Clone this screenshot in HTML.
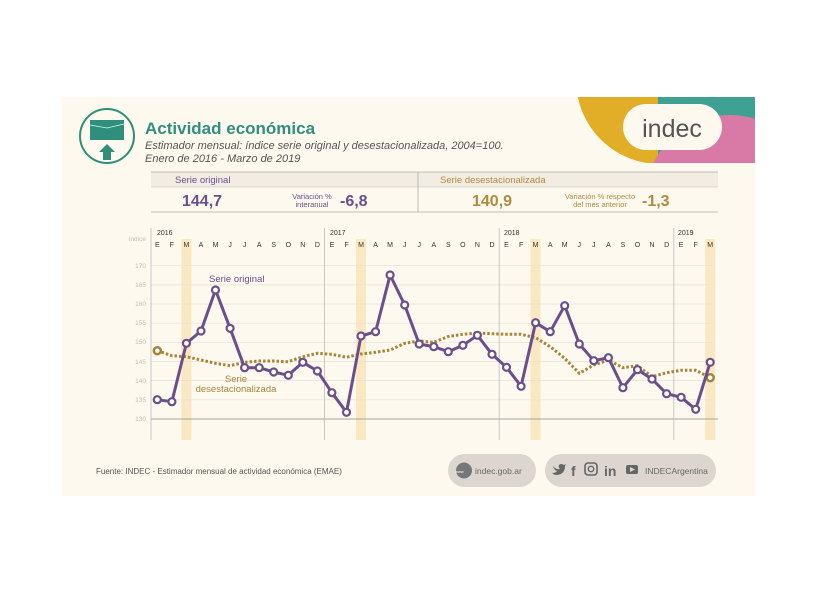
<!DOCTYPE html>
<html><head><meta charset="utf-8"><style>
html,body{margin:0;padding:0;background:#fff;}
svg{display:block;font-family:"Liberation Sans",sans-serif;}
</style></head><body>
<svg width="815" height="612" viewBox="0 0 815 612" xmlns="http://www.w3.org/2000/svg">
<defs><clipPath id="pc"><rect x="62" y="97" width="693" height="66"/></clipPath></defs>
<rect x="62" y="97" width="693" height="399" fill="#fdf9ef"/>
<g clip-path="url(#pc)">
 <circle cx="660" cy="80" r="84" fill="#e2ad27"/>
 <rect x="658" y="90" width="100" height="80" fill="#3fa193"/>
 <circle cx="730" cy="200" r="85" fill="#d97aa6"/>
 <rect x="623" y="104" width="99" height="46" rx="23" fill="#fdf9ef"/>
 <text x="672" y="137" font-size="25" fill="#555" text-anchor="middle">indec</text>
</g>
<!-- icon -->
<circle cx="107" cy="136" r="27" fill="none" stroke="#2f8f7c" stroke-width="2"/>
<rect x="90" y="120" width="34" height="20" fill="#2f8f7c"/>
<path d="M90 125 L107 128 L124 124" stroke="#cfe" stroke-width="0.7" fill="none"/>
<path d="M107 144 L99 152 L103 152 L103 160 L111 160 L111 152 L115 152 Z" fill="#2f8f7c"/>
<text x="145" y="134" font-size="17" font-weight="bold" fill="#2f8f7c">Actividad económica</text>
<text x="145" y="149" font-size="11" font-style="italic" fill="#555">Estimador mensual: índice serie original y desestacionalizada, 2004=100.</text>
<text x="145" y="162" font-size="11" font-style="italic" fill="#555">Enero de 2016 - Marzo de 2019</text>
<!-- table -->
<rect x="151" y="172" width="567" height="15" fill="#f3ece3"/>
<line x1="151" y1="172" x2="718" y2="172" stroke="#aaa" stroke-width="0.8"/>
<line x1="151" y1="187" x2="718" y2="187" stroke="#bbb" stroke-width="0.6"/>
<line x1="151" y1="212" x2="718" y2="212" stroke="#aaa" stroke-width="0.8"/>
<line x1="418" y1="172" x2="418" y2="212" stroke="#aaa" stroke-width="0.8"/>
<text x="175" y="183" font-size="9.5" fill="#6a4f8c">Serie original</text>
<text x="440" y="183" font-size="9.5" fill="#b08a3e">Serie desestacionalizada</text>
<text x="182" y="206" font-size="16" font-weight="bold" fill="#6a4f8c">144,7</text>
<text x="312" y="199" font-size="7.5" fill="#6a4f8c" text-anchor="middle">Variación %</text>
<text x="312" y="207" font-size="7.5" fill="#6a4f8c" text-anchor="middle">interanual</text>
<text x="340" y="206" font-size="16" font-weight="bold" fill="#6a4f8c">-6,8</text>
<text x="472" y="206" font-size="16" font-weight="bold" fill="#b08a3e">140,9</text>
<text x="600" y="199" font-size="7.5" fill="#b08a3e" text-anchor="middle">Variación % respecto</text>
<text x="600" y="207" font-size="7.5" fill="#b08a3e" text-anchor="middle">del mes anterior</text>
<text x="642" y="206" font-size="16" font-weight="bold" fill="#b08a3e">-1,3</text>
<!-- highlight bars -->
<g fill="#f8e6bd" opacity="0.9">
 <rect x="181.4" y="239" width="10" height="201"/>
 <rect x="356" y="239" width="10" height="201"/>
 <rect x="530.6" y="239" width="10" height="201"/>
 <rect x="705.2" y="239" width="10" height="201"/>
</g>
<!-- grid -->
<g stroke="#e6e0d6" stroke-width="0.7">
 <line x1="151" y1="265.7" x2="712" y2="265.7"/><line x1="151" y1="284.9" x2="712" y2="284.9"/>
 <line x1="151" y1="304" x2="712" y2="304"/><line x1="151" y1="323.2" x2="712" y2="323.2"/>
 <line x1="151" y1="342.3" x2="712" y2="342.3"/><line x1="151" y1="361.5" x2="712" y2="361.5"/>
 <line x1="151" y1="380.6" x2="712" y2="380.6"/><line x1="151" y1="399.8" x2="712" y2="399.8"/>
</g>
<line x1="151" y1="419" x2="718" y2="419" stroke="#888" stroke-width="0.8"/>
<g stroke="#bbb" stroke-width="0.8">
 <line x1="151" y1="228" x2="151" y2="440"/>
 <line x1="324.6" y1="228" x2="324.6" y2="440"/>
 <line x1="499.2" y1="228" x2="499.2" y2="440"/>
 <line x1="673.8" y1="228" x2="673.8" y2="440"/>
</g>
<g font-size="6.5" fill="#c4bdb3" text-anchor="end">
 <text x="146" y="241">Indice</text>
 <text x="146" y="268">170</text><text x="146" y="287">165</text><text x="146" y="306">160</text>
 <text x="146" y="325">155</text><text x="146" y="344">150</text><text x="146" y="364">145</text>
 <text x="146" y="383">140</text><text x="146" y="402">135</text><text x="146" y="421">130</text>
</g>
<g font-size="7" fill="#333">
 <text x="157" y="235">2016</text><text x="330" y="235">2017</text><text x="504" y="235">2018</text><text x="678" y="235">2019</text>
</g>
<g font-size="7" fill="#333" text-anchor="middle">
 <text x="157.3" y="247">E</text><text x="171.9" y="247">F</text><text x="186.4" y="247">M</text><text x="201" y="247">A</text><text x="215.5" y="247">M</text><text x="230.1" y="247">J</text><text x="244.6" y="247">J</text><text x="259.2" y="247">A</text><text x="273.7" y="247">S</text><text x="288.3" y="247">O</text><text x="302.8" y="247">N</text><text x="317.4" y="247">D</text>
 <text x="331.9" y="247">E</text><text x="346.5" y="247">F</text><text x="361" y="247">M</text><text x="375.6" y="247">A</text><text x="390.1" y="247">M</text><text x="404.7" y="247">J</text><text x="419.2" y="247">J</text><text x="433.8" y="247">A</text><text x="448.3" y="247">S</text><text x="462.9" y="247">O</text><text x="477.4" y="247">N</text><text x="492" y="247">D</text>
 <text x="506.5" y="247">E</text><text x="521.1" y="247">F</text><text x="535.6" y="247">M</text><text x="550.2" y="247">A</text><text x="564.7" y="247">M</text><text x="579.3" y="247">J</text><text x="593.8" y="247">J</text><text x="608.4" y="247">A</text><text x="622.9" y="247">S</text><text x="637.5" y="247">O</text><text x="652" y="247">N</text><text x="666.6" y="247">D</text>
 <text x="681.1" y="247">E</text><text x="695.7" y="247">F</text><text x="710.2" y="247">M</text>
</g>
<!-- SA series -->
<polyline fill="none" stroke="#a8843a" stroke-width="3" stroke-dasharray="2.5 2" points="157.3,350.7 171.9,355.7 186.4,356.7 201,360 215.5,363.3 230.1,365.7 244.6,362.3 259.2,361 273.7,361 288.3,361.7 302.8,356.7 317.4,353.3 331.9,354.3 346.5,357.3 361,354 375.6,352.3 390.1,350 404.7,343.3 419.2,341 433.8,342.3 448.3,336.5 462.9,334.3 477.4,333 492,333.7 506.5,334.3 521.1,334.3 535.6,337.7 550.2,346.7 564.7,358.3 579.3,373.3 593.8,365 608.4,360 622.9,367.7 637.5,365.7 652,376.7 666.6,372.7 681.1,370.3 695.7,370.3 710.2,377.7"/>
<circle cx="157.3" cy="350.7" r="3.5" fill="#fff" stroke="#a8843a" stroke-width="2.5"/>
<circle cx="710.2" cy="377.7" r="3.5" fill="#fff" stroke="#a8843a" stroke-width="2.5"/>
<!-- Original series -->
<polyline fill="none" stroke="#6a4f8c" stroke-width="3" stroke-linejoin="round" points="157.3,399.7 171.9,401.7 186.4,343.3 201,331 215.5,290 230.1,328.3 244.6,367.7 259.2,367.7 273.7,372 288.3,375.3 302.8,362.3 317.4,371 331.9,392.7 346.5,412.3 361,336 375.6,331.7 390.1,275 404.7,305 419.2,344 433.8,346.7 448.3,351.7 462.9,345.3 477.4,335.3 492,354.3 506.5,367.3 521.1,386.3 535.6,322.7 550.2,331.7 564.7,305.7 579.3,344 593.8,360.7 608.4,357.7 622.9,387.7 637.5,369.7 652,379 666.6,393.7 681.1,397.3 695.7,409.3 710.2,362.3"/>
<g fill="#fff" stroke="#6a4f8c" stroke-width="2.2">
<circle cx="157.3" cy="399.7" r="3.5"/><circle cx="171.9" cy="401.7" r="3.5"/><circle cx="186.4" cy="343.3" r="3.5"/><circle cx="201" cy="331" r="3.5"/><circle cx="215.5" cy="290" r="3.5"/><circle cx="230.1" cy="328.3" r="3.5"/><circle cx="244.6" cy="367.7" r="3.5"/><circle cx="259.2" cy="367.7" r="3.5"/><circle cx="273.7" cy="372" r="3.5"/><circle cx="288.3" cy="375.3" r="3.5"/><circle cx="302.8" cy="362.3" r="3.5"/><circle cx="317.4" cy="371" r="3.5"/><circle cx="331.9" cy="392.7" r="3.5"/><circle cx="346.5" cy="412.3" r="3.5"/><circle cx="361" cy="336" r="3.5"/><circle cx="375.6" cy="331.7" r="3.5"/><circle cx="390.1" cy="275" r="3.5"/><circle cx="404.7" cy="305" r="3.5"/><circle cx="419.2" cy="344" r="3.5"/><circle cx="433.8" cy="346.7" r="3.5"/><circle cx="448.3" cy="351.7" r="3.5"/><circle cx="462.9" cy="345.3" r="3.5"/><circle cx="477.4" cy="335.3" r="3.5"/><circle cx="492" cy="354.3" r="3.5"/><circle cx="506.5" cy="367.3" r="3.5"/><circle cx="521.1" cy="386.3" r="3.5"/><circle cx="535.6" cy="322.7" r="3.5"/><circle cx="550.2" cy="331.7" r="3.5"/><circle cx="564.7" cy="305.7" r="3.5"/><circle cx="579.3" cy="344" r="3.5"/><circle cx="593.8" cy="360.7" r="3.5"/><circle cx="608.4" cy="357.7" r="3.5"/><circle cx="622.9" cy="387.7" r="3.5"/><circle cx="637.5" cy="369.7" r="3.5"/><circle cx="652" cy="379" r="3.5"/><circle cx="666.6" cy="393.7" r="3.5"/><circle cx="681.1" cy="397.3" r="3.5"/><circle cx="695.7" cy="409.3" r="3.5"/><circle cx="710.2" cy="362.3" r="3.5"/>
</g>
<text x="209" y="282" font-size="9.5" fill="#6a4f8c">Serie original</text>
<text x="236" y="382" font-size="9.5" fill="#a8843a" text-anchor="middle">Serie</text>
<text x="236" y="392" font-size="9.5" fill="#a8843a" text-anchor="middle">desestacionalizada</text>
<!-- footer -->
<text x="96" y="474" font-size="8" fill="#555">Fuente: INDEC - Estimador mensual de actividad económica (EMAE)</text>
<rect x="448" y="454" width="88" height="33" rx="16.5" fill="#ddd6d0"/>
<circle cx="464" cy="470.5" r="8" fill="#777"/>
<text x="455" y="473" font-size="4" fill="#fff">www</text>
<text x="475" y="474" font-size="8.5" fill="#666">indec.gob.ar</text>
<rect x="545" y="454" width="171" height="33" rx="16.5" fill="#ddd6d0"/>
<path d="M553 466 Q556 470 560 469 Q558 467 559 465 Q561 463 564 465 L566 464 L565 466 Q565 474 557 475 Q554 475 552 473 Q556 473 557 471 Q554 470 553 466 Z" fill="#666"/>
<text x="571" y="476" font-size="14" font-weight="bold" fill="#666">f</text>
<rect x="585" y="463" width="12" height="12" rx="3" fill="none" stroke="#666" stroke-width="1.6"/>
<circle cx="591" cy="469" r="2.7" fill="none" stroke="#666" stroke-width="1.4"/>
<text x="604" y="476" font-size="14" font-weight="bold" fill="#666">in</text>
<rect x="626" y="465" width="12" height="9" rx="2" fill="#666"/>
<path d="M630 467 L635 469.5 L630 472 Z" fill="#ddd6d0"/>
<text x="645" y="474" font-size="8.5" fill="#666">INDECArgentina</text>
</svg>
</body></html>
